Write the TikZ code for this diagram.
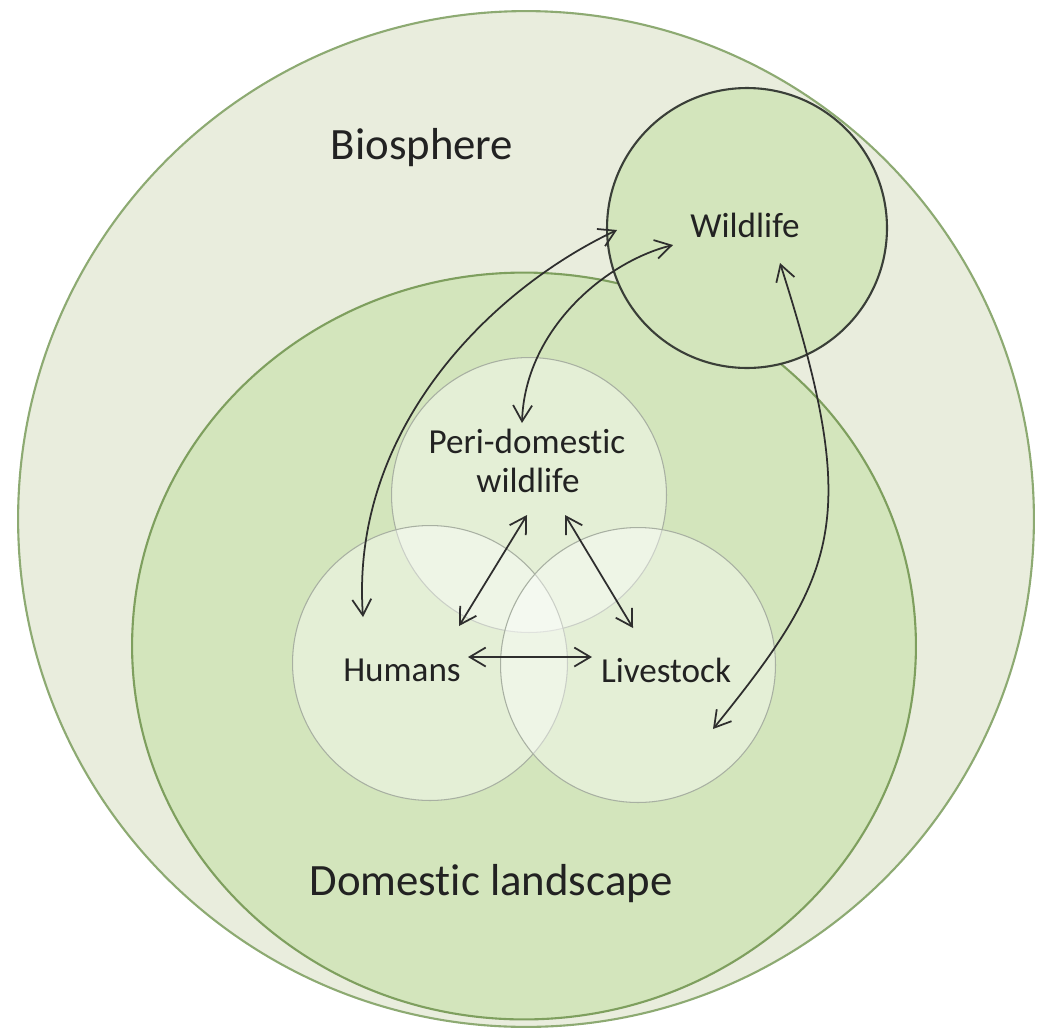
\documentclass[tikz,border=0pt]{standalone}
\usepackage{fontspec}
\setmainfont{Carlito}[Ligatures={NoCommon}]
\usetikzlibrary{shapes.geometric,arrows.meta}
\definecolor{outerfill}{HTML}{E9EDDD}
\definecolor{outerline}{HTML}{8DAA72}
\definecolor{domfill}{HTML}{D3E5BC}
\definecolor{domline}{HTML}{7E9F5E}
\definecolor{wildline}{HTML}{3A3F38}
\definecolor{smallline}{HTML}{A8B0A2}
\definecolor{txt}{HTML}{222222}
\definecolor{arr}{HTML}{2E2E2E}
\tikzset{
  bigcirc/.style={circle,inner sep=0pt,fill=outerfill,draw=outerline,line width=1.2pt},
  domell/.style={ellipse,inner sep=0pt,fill=domfill,draw=domline,line width=1.2pt},
  wildcirc/.style={circle,inner sep=0pt,fill=domfill,draw=wildline,line width=1.2pt},
  smallcirc/.style={circle,inner sep=0pt,minimum size=5.5cm,fill=white,fill opacity=0.4,draw=smallline,draw opacity=1,line width=0.6pt},
  biglabel/.style={font=\fontsize{25.5}{30}\selectfont,text=txt,inner sep=0pt},
  smalllabel/.style={font=\fontsize{20}{22}\selectfont,text=txt,inner sep=0pt},
  link/.style={draw=arr,line width=1pt,{Straight Barb[length=3.2mm,width=3.8mm]}-{Straight Barb[length=3.2mm,width=3.8mm]}}
}
\begin{document}
\begin{tikzpicture}[x=0.02cm,y=-0.02cm]
\useasboundingbox (0,0) rectangle (1037,1028);
\fill[white] (0,0) rectangle (1037,1028);
% circles
\node[bigcirc,minimum size=20.32cm] (bio) at (526,519) {};
\node[domell,minimum width=15.68cm,minimum height=14.94cm] (dom) at (524,646) {};
\node[wildcirc,minimum size=5.6cm] (wild) at (747,228) {};
\node[smallcirc] (peri) at (529,495) {};
\node[smallcirc] (hum) at (430,663) {};
\node[smallcirc] (live) at (638,665) {};
% labels
\node[biglabel,anchor=base] (biol) at (422,159) {Biosphere};
\node[biglabel,anchor=base] (doml) at (491,895) {Domestic landscape};
\node[smalllabel,anchor=base] (wildl) at (745,237) {Wildlife};
\node[smalllabel,anchor=base] (peril1) at (527,453) {Peri-domestic};
\node[smalllabel,anchor=base] (peril2) at (528,492) {wildlife};
\node[smalllabel,anchor=base] (huml) at (402,681) {Humans};
\node[smalllabel,anchor=base] (livel) at (666,682) {Livestock};
% arrow ends
\coordinate (w1) at (617,230);
\coordinate (h1) at (363,617);
\coordinate (w2) at (673,245);
\coordinate (p1) at (522,423);
\coordinate (w3) at (780,263);
\coordinate (l1) at (713,729);
\coordinate (p2) at (527,515);
\coordinate (h2) at (459,626);
\coordinate (p3) at (565,515);
\coordinate (l2) at (633,628);
\coordinate (h3) at (468,657);
\coordinate (l3) at (592,657);
% connectors
\draw[link] (h1) .. controls (350,430) and (490,290) .. (w1);
\draw[link] (p1) .. controls (525,330) and (605,262) .. (w2);
\draw[link] (w3) .. controls (862,520) and (839,573) .. (l1);
\draw[link] (p2) -- (h2);
\draw[link] (p3) -- (l2);
\draw[link] (h3) -- (l3);
\end{tikzpicture}
\end{document}
